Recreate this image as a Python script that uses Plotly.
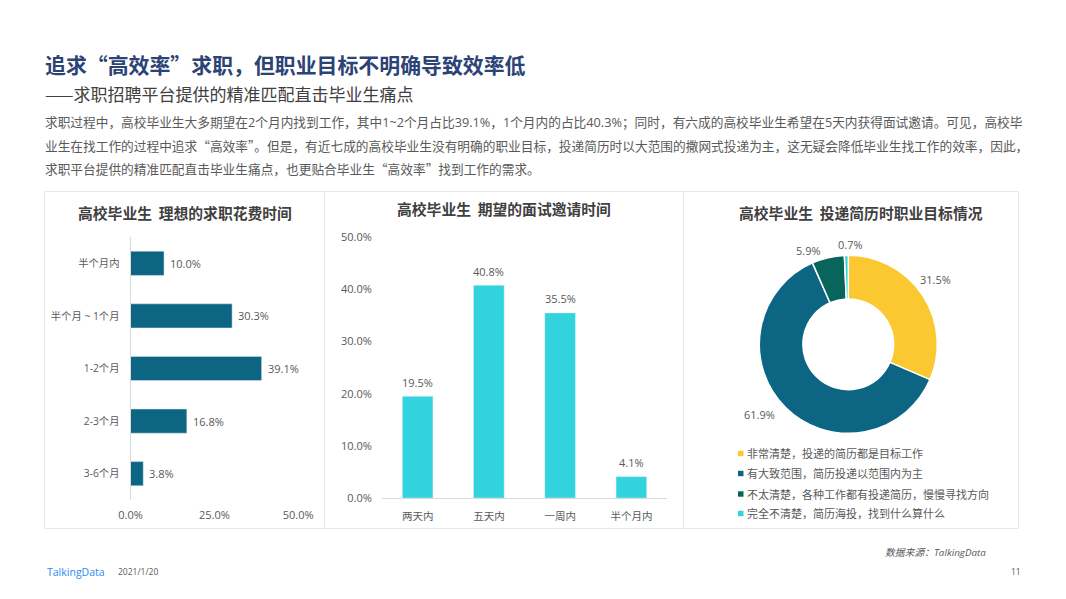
import plotly.graph_objects as go

W, H = 1066, 599
FONT = "Open Sans, Noto Sans CJK SC, sans-serif"
CJK = "Noto Sans CJK SC, sans-serif"

# data
time_cats = ["半个月内", "半个月 ~ 1个月", "1-2个月", "2-3个月", "3-6个月"]
time_vals = [10.0, 30.3, 39.1, 16.8, 3.8]

invite_cats = ["两天内", "五天内", "一周内", "半个月内"]
invite_vals = [19.5, 40.8, 35.5, 4.1]

goal_cats = ["非常清楚，投递的简历都是目标工作", "有大致范围，简历投递以范围内为主",
             "不太清楚，各种工作都有投递简历，慢慢寻找方向", "完全不清楚，简历海投，找到什么算什么"]
goal_vals = [31.5, 61.9, 5.9, 0.7]
goal_colors = ["#FBC831", "#0C6583", "#08655C", "#31D3DC"]

QUOTED = f'<span style="font-family:{CJK}">“</span>高效率<span style="font-family:{CJK}">”</span>'
body_lines = [
    "求职过程中，高校毕业生大多期望在2个月内找到工作，其中1~2个月占比39.1%，1个月内的占比40.3%；同时，有六成的高校毕业生希望在5天内获得面试邀请。可见，高校毕",
    f"业生在找工作的过程中追求{QUOTED}。但是，有近七成的高校毕业生没有明确的职业目标，投递简历时以大范围的撒网式投递为主，这无疑会降低毕业生找工作的效率，因此，",
    f"求职平台提供的精准匹配直击毕业生痛点，也更贴合毕业生{QUOTED}找到工作的需求。",
]


def fx(p):
    return p / W


def fy(p):
    return 1 - p / H


def label(x, y, text, size=11, color="#595959", anchor="left", **kw):
    # annotations carry about 2px of padding
    x = x - 2 if anchor == "left" else x + 2 if anchor == "right" else x
    fig.add_annotation(x=fx(x), y=fy(y), xref="paper", yref="paper", text=text, showarrow=False,
                       xanchor=anchor, yanchor="middle", align=anchor,
                       font=dict(family=kw.pop("family", FONT), size=size, color=color), **kw)


fig = go.Figure()

# left chart
fig.add_trace(go.Bar(y=time_cats, x=time_vals, orientation="h", marker=dict(color="#0C6583"),
                     width=0.46, xaxis="x", yaxis="y", hoverinfo="x+y"))
# middle chart
fig.add_trace(go.Bar(x=invite_cats, y=invite_vals, marker=dict(color="#31D3DC"),
                     width=0.43, xaxis="x2", yaxis="y2", hoverinfo="x+y"))
# donut
fig.add_trace(go.Pie(labels=goal_cats, values=goal_vals, hole=0.51, sort=False, direction="clockwise",
                     rotation=0, marker=dict(colors=goal_colors, line=dict(color="white", width=1.5)),
                     textinfo="none", showlegend=False,
                     domain=dict(x=[fx(848.3 - 89), fx(848.3 + 89)], y=[fy(344.3 + 89), fy(344.3 - 89)])))

tick_font = dict(family=FONT, size=11, color="#595959")
cat_font = dict(family=FONT, size=10.3, color="#595959")
fig.update_layout(
    width=W, height=H, margin=dict(l=0, r=0, t=0, b=0), paper_bgcolor="white", plot_bgcolor="white",
    showlegend=False, font=tick_font,
    xaxis=dict(domain=[fx(130.5), fx(298.2)], range=[0, 50], tickvals=[0, 25, 50],
               ticktext=["0.0%", "25.0%", "50.0%"], showgrid=False, zeroline=False, showline=False,
               ticks="outside", ticklen=5, tickcolor="rgba(0,0,0,0)", anchor="y", automargin=False),
    yaxis=dict(domain=[fy(500), fy(237)], categoryorder="array", categoryarray=time_cats[::-1],
               showgrid=False, zeroline=False, showline=True, linecolor="#D9D9D9", linewidth=1,
               ticks="outside", ticklen=8, tickcolor="rgba(0,0,0,0)", anchor="x", automargin=False,
               tickfont=cat_font),
    xaxis2=dict(domain=[fx(382), fx(667)], categoryorder="array", categoryarray=invite_cats,
                showgrid=False, zeroline=False, showline=True, linecolor="#D9D9D9", linewidth=1,
                ticks="outside", ticklen=8, tickcolor="rgba(0,0,0,0)", anchor="y2", automargin=False,
                tickfont=dict(family=FONT, size=10.5, color="#595959")),
    yaxis2=dict(domain=[fy(498), fy(237.3)], range=[0, 50], tickvals=[0, 10, 20, 30, 40, 50],
                ticktext=["0.0%", "10.0%", "20.0%", "30.0%", "40.0%", "50.0%"], showgrid=False,
                zeroline=False, showline=False, ticks="outside", ticklen=7,
                tickcolor="rgba(0,0,0,0)", anchor="x2", automargin=False),
)

# data labels
for c, v in zip(time_cats, time_vals):
    fig.add_annotation(x=v, y=c, xref="x", yref="y", text=f"{v:.1f}%", showarrow=False, xanchor="left",
                       xshift=4, font=tick_font)
for c, v in zip(invite_cats, invite_vals):
    fig.add_annotation(x=c, y=v, xref="x2", yref="y2", text=f"{v:.1f}%", showarrow=False, yanchor="middle",
                       yshift=14, font=tick_font)

# donut labels
label(935, 279, f"{goal_vals[0]}%", anchor="center")
label(759, 414, f"{goal_vals[1]}%", anchor="center")
label(808, 250, f"{goal_vals[2]}%", anchor="center")
label(850, 245, f"{goal_vals[3]}%", anchor="center")

# donut legend
for name, col, y in zip(goal_cats, goal_colors, [453.5, 473.5, 494, 513.5]):
    fig.add_shape(type="rect", xref="paper", yref="paper", x0=fx(738), x1=fx(743.5), y0=fy(y + 2.7), y1=fy(y - 2.7),
                  fillcolor=col, line_width=0)
    label(747, y, name, size=11)

# panels
fig.add_shape(type="rect", xref="paper", yref="paper", x0=fx(44.5), x1=fx(1018.5), y0=fy(528.5), y1=fy(191.5),
              line=dict(color="#E7E7E7", width=1), layer="below")
for x in [324.5, 683.5]:
    fig.add_shape(type="line", xref="paper", yref="paper", x0=fx(x), x1=fx(x), y0=fy(528.5), y1=fy(191.5),
                  line=dict(color="#E7E7E7", width=1), layer="below")

# headings
label(45, 63.5, "<b>追求“高效率”求职，但职业目标不明确导致效率低</b>", size=20.9, color="#2B4375", family=CJK)
label(45, 93.5, "——求职招聘平台提供的精准匹配直击毕业生痛点", size=17, color="#404040", family=CJK)
for line, y in zip(body_lines, [122.5, 145.5, 168]):
    label(45, y, line, size=12.7, family=FONT)

gap = "\u00a0\u00a0"
label(184.5, 212.5, f"<b>高校毕业生{gap}理想的求职花费时间</b>", size=14.8, color="#404040", anchor="center", family=CJK)
label(504, 208.5, f"<b>高校毕业生{gap}期望的面试邀请时间</b>", size=14.8, color="#404040", anchor="center", family=CJK)
label(861, 212.5, f"<b>高校毕业生{gap}投递简历时职业目标情况</b>", size=14.8, color="#404040", anchor="center", family=CJK)

# footer
label(986, 552.5, "<i>数据来源：TalkingData</i>", size=9.8, color="#595959", anchor="right")
label(47, 571.5, "TalkingData", size=10.5, color="#2A8CF0")
label(118, 571.5, "2021/1/20", size=8.5, color="#595959")
label(1021, 571.5, "11", size=8.5, color="#595959", anchor="right")

fig.write_html("out.html", config={"displayModeBar": False}, post_script="document.body.style.margin='0';")
